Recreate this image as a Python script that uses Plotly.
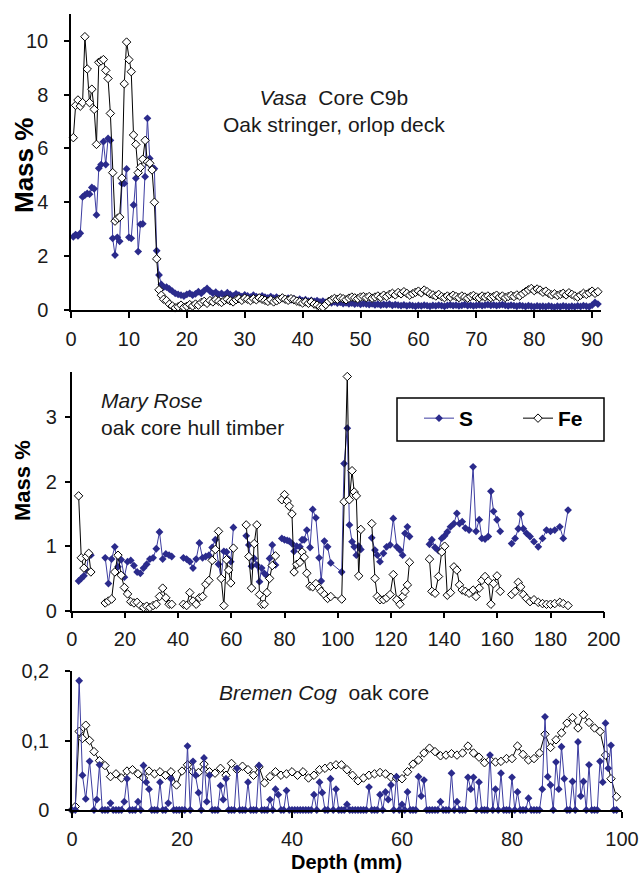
import plotly.graph_objects as go

# ---------------------------------------------------------------------------
# Data: S and Fe mass % along three oak core profiles (depth in mm)
# ---------------------------------------------------------------------------

# Vasa core C9b, oak stringer, orlop deck
vasa_depth = [
    0.4, 0.8, 1.2, 1.6, 2.0, 2.4, 2.8, 3.2, 3.6, 4.0,
    4.4, 4.8, 5.2, 5.6, 6.0, 6.4, 6.8, 7.2, 7.6, 8.0,
    8.4, 8.8, 9.2, 9.6, 10.0, 10.4, 10.8, 11.2, 11.6, 12.0,
    12.4, 12.8, 13.2, 13.6, 14.0, 14.4, 14.8, 15.2, 15.6, 16.0,
    16.5, 17.0, 17.5, 18.0, 18.5, 19.0, 19.5, 20.0, 20.5, 21.0,
    21.5, 22.0, 22.5, 23.0, 23.5, 24.0, 24.5, 25.0, 25.5, 26.0,
    26.5, 27.0, 27.5, 28.0, 28.5, 29.0, 29.5, 30.0, 30.5, 31.0,
    31.5, 32.0, 32.5, 33.0, 33.5, 34.0, 34.5, 35.0, 35.5, 36.0,
    36.5, 37.0, 37.5, 38.0, 38.5, 39.0, 39.5, 40.0, 40.5, 41.0,
    41.5, 42.0, 42.5, 43.0, 43.5, 44.0, 44.5, 45.0, 45.5, 46.0,
    46.5, 47.0, 47.5, 48.0, 48.5, 49.0, 49.5, 50.0, 50.5, 51.0,
    51.5, 52.0, 52.5, 53.0, 53.5, 54.0, 54.5, 55.0, 55.5, 56.0,
    56.5, 57.0, 57.5, 58.0, 58.5, 59.0, 59.5, 60.0, 60.5, 61.0,
    61.5, 62.0, 62.5, 63.0, 63.5, 64.0, 64.5, 65.0, 65.5, 66.0,
    66.5, 67.0, 67.5, 68.0, 68.5, 69.0, 69.5, 70.0, 70.5, 71.0,
    71.5, 72.0, 72.5, 73.0, 73.5, 74.0, 74.5, 75.0, 75.5, 76.0,
    76.5, 77.0, 77.5, 78.0, 78.5, 79.0, 79.5, 80.0, 80.5, 81.0,
    81.5, 82.0, 82.5, 83.0, 83.5, 84.0, 84.5, 85.0, 85.5, 86.0,
    86.5, 87.0, 87.5, 88.0, 88.5, 89.0, 89.5, 90.0, 90.5, 91.0,
]
vasa_s = [
    2.72, 2.80, 2.75, 2.85, 4.20, 4.27, 4.33, 4.30, 4.55, 4.50,
    3.53, 5.26, 5.40, 6.25, 5.40, 6.37, 6.30, 2.66, 2.04, 2.70,
    2.55, 4.70, 4.70, 5.24, 2.70, 2.66, 3.90, 4.89, 2.17, 3.18,
    3.20, 4.95, 7.12, 5.63, 5.30, 5.25, 2.20, 1.30, 0.95, 0.85,
    0.85, 0.78, 0.70, 0.62, 0.58, 0.55, 0.52, 0.58, 0.62, 0.55,
    0.60, 0.68, 0.62, 0.72, 0.80, 0.70, 0.62, 0.66, 0.58, 0.62,
    0.55, 0.64, 0.58, 0.52, 0.60, 0.55, 0.50, 0.56, 0.52, 0.48,
    0.55, 0.50, 0.46, 0.52, 0.48, 0.45, 0.50, 0.44, 0.48, 0.42,
    0.45, 0.40, 0.44, 0.38, 0.42, 0.36, 0.40, 0.35, 0.38, 0.33,
    0.36, 0.32, 0.35, 0.30, 0.33, 0.28, 0.32, 0.27, 0.30, 0.26,
    0.28, 0.24, 0.27, 0.23, 0.26, 0.22, 0.25, 0.21, 0.24, 0.22,
    0.20, 0.23, 0.19, 0.22, 0.18, 0.21, 0.19, 0.22, 0.17, 0.20,
    0.18, 0.16, 0.19, 0.15, 0.18, 0.16, 0.14, 0.17, 0.15, 0.18,
    0.16, 0.14, 0.17, 0.15, 0.18, 0.16, 0.14, 0.17, 0.19, 0.16,
    0.18, 0.15, 0.17, 0.20, 0.16, 0.18, 0.15, 0.17, 0.19, 0.16,
    0.18, 0.20, 0.17, 0.19, 0.16, 0.18, 0.20, 0.17, 0.15, 0.18,
    0.16, 0.14, 0.17, 0.15, 0.13, 0.16, 0.14, 0.12, 0.15, 0.13,
    0.14, 0.12, 0.15, 0.13, 0.11, 0.14, 0.12, 0.15, 0.13, 0.12,
    0.14, 0.12, 0.15, 0.13, 0.16, 0.14, 0.12, 0.18, 0.28, 0.22,
]
vasa_fe = [
    6.40, 7.60, 7.80, 7.57, 7.70, 10.15, 8.95, 7.70, 8.20, 7.45,
    6.15, 9.20, 9.25, 9.30, 8.90, 8.60, 7.30, 5.10, 3.30, 3.40,
    3.45, 4.90, 8.40, 9.95, 9.30, 8.85, 6.50, 6.15, 5.10, 5.30,
    5.60, 6.30, 5.50, 5.45, 5.20, 4.00, 1.90, 0.75, 0.55, 0.40,
    0.35, 0.22, 0.15, 0.08, 0.12, 0.18, 0.10, 0.14, 0.20, 0.15,
    0.22, 0.18, 0.28, 0.32, 0.25, 0.35, 0.30, 0.38, 0.33, 0.28,
    0.36, 0.40, 0.34, 0.30, 0.38, 0.42, 0.36, 0.44, 0.40, 0.35,
    0.42, 0.38, 0.45, 0.40, 0.36, 0.32, 0.38, 0.30, 0.34, 0.40,
    0.45, 0.40, 0.36, 0.42, 0.38, 0.33, 0.30, 0.26, 0.30, 0.25,
    0.30, 0.22, 0.18, 0.12, 0.10, 0.20, 0.32, 0.38, 0.43, 0.40,
    0.45, 0.42, 0.38, 0.44, 0.48, 0.45, 0.42, 0.48, 0.50, 0.46,
    0.50, 0.44, 0.48, 0.52, 0.47, 0.55, 0.50, 0.58, 0.62, 0.56,
    0.65, 0.60, 0.68, 0.62, 0.55, 0.60, 0.66, 0.70, 0.64, 0.74,
    0.68, 0.60, 0.56, 0.52, 0.58, 0.50, 0.46, 0.52, 0.48, 0.55,
    0.50, 0.46, 0.52, 0.48, 0.44, 0.50, 0.54, 0.48, 0.45, 0.52,
    0.48, 0.52, 0.46, 0.50, 0.55, 0.48, 0.52, 0.46, 0.50, 0.54,
    0.50, 0.56, 0.52, 0.60, 0.68, 0.75, 0.80, 0.72, 0.78, 0.74,
    0.66, 0.70, 0.62, 0.56, 0.60, 0.54, 0.58, 0.62, 0.56, 0.64,
    0.58, 0.52, 0.48, 0.55, 0.62, 0.58, 0.64, 0.70, 0.62, 0.68,
]

# Mary Rose oak core, hull timber (None marks breaks between measured runs)
mr_depth = [
    2.6, 3.6, 4.6, 5.6, 6.4, 7.2, None,
    12.6, 13.8, 15.0, 16.2, 17.4, 18.6, 19.8, 21.0, 22.2, 23.4, 24.6,
    25.8, 27.0, 28.2, 29.4, 30.6, 31.8, 33.0, 34.2, 35.4, 36.6, 37.6, None,
    42.0, 43.2, 44.4, 45.6, 46.8, 48.0, 49.2, 50.4, 51.6, 52.8, 54.0,
    55.2, 56.2, 57.2, 58.2, 59.0, 59.8, 60.8, None,
    65.6, 66.6, 67.6, 68.6, 69.6, 70.6, 71.4, 72.4, 73.4, 74.4, 75.4, 76.6, None,
    79.0, 80.0, 81.0, 81.8, 82.8, 83.6, 84.6, 85.8, 86.6, 87.4, 88.4,
    89.6, 90.6, 91.8, 93.0, 93.8, 95.0, 96.2, 97.4, 101.5, 102.4, 103.6,
    104.4, 105.4, 106.2, 107.0, 107.9, 108.7, None,
    112.8, 114.0, 114.9, 115.9, 117.2, 118.4, 119.7, 120.9, 122.2, 123.4,
    124.4, 125.3, 126.2, 127.0, None,
    134.5, 135.4, 136.6, 137.9, 139.1, 140.2, 141.2, 142.4, 143.7, 144.8,
    145.8, 146.8, 148.0, 149.4, 150.9, 152.0, 153.2, 154.2, 155.4, 156.6,
    157.6, 158.6, 159.9, 161.1, None,
    165.4, 166.7, 167.9, 168.8, 169.8, 171.0, 172.3, 173.8, 175.4, 177.0,
    178.5, 180.0, 181.6, 183.5, 184.8, 186.6,
]
mr_s = [
    0.46, 0.50, 0.54, 0.63, 0.88, 0.86, None,
    0.82, 0.42, 0.80, 0.99, 0.68, 0.79, 0.52, 0.76, 0.78, 0.70, 0.60,
    0.58, 0.66, 0.72, 0.80, 0.82, 0.96, 1.22, 0.80, 0.88, 0.86, 0.84, None,
    0.82, 0.80, 0.76, 0.66, 0.80, 1.05, 0.82, 0.84, 0.86, 0.98, 1.10,
    0.72, 0.50, 0.92, 0.91, 0.80, 0.76, 1.29, None,
    1.16, 1.02, 0.69, 0.81, 0.71, 0.45, 0.66, 0.58, 0.54, 0.81, 1.02, 0.71, None,
    1.12, 1.10, 1.09, 1.08, 1.04, 0.92, 1.00, 0.99, 1.10, 1.10, 1.25,
    0.98, 1.57, 1.44, 0.82, 0.46, 1.08, 0.99, 0.74, 0.60, 2.28, 2.83,
    1.33, 1.07, 0.99, 0.86, 1.00, 0.95, None,
    1.13, 0.94, 0.86, 0.76, 0.89, 0.99, 1.02, 1.43, 0.99, 0.94,
    0.86, 1.20, 1.30, 1.15, None,
    1.03, 1.10, 0.98, 0.93, 1.12, 1.16, 1.22, 1.30, 1.35, 1.51,
    1.35, 1.38, 1.28, 1.25, 2.23, 1.23, 1.41, 1.12, 1.11, 1.15,
    1.85, 1.54, 1.41, 1.23, None,
    1.04, 1.12, 1.27, 1.50, 1.27, 1.20, 1.15, 1.07, 0.99, 1.12,
    1.25, 1.23, 1.25, 1.30, 1.12, 1.56,
]
mr_fe = [
    1.78, 0.82, 0.66, 0.84, 0.89, 0.60, None,
    0.12, 0.15, 0.18, 0.60, 0.86, 0.55, 0.36, 0.26, 0.14, 0.12, 0.13,
    0.08, 0.05, 0.07, 0.05, 0.08, 0.10, 0.22, 0.35, 0.20, 0.10, 0.10, None,
    0.10, 0.08, 0.28, 0.15, 0.10, 0.20, 0.22, 0.41, 0.47, 0.78, 0.95,
    1.23, 0.50, 0.08, 0.79, 0.63, 0.43, 0.97, None,
    1.33, 0.84, 0.35, 1.04, 1.33, 0.25, 0.10, 0.10, 0.28, 0.50, 0.70, 0.85, None,
    1.72, 1.80, 1.70, 1.62, 1.50, 0.60, 0.72, 0.75, 0.91, 0.83, 0.58,
    0.38, 0.37, 0.42, 0.35, 0.30, 0.25, 0.19, 0.22, 0.18, 1.69, 3.63,
    1.72, 2.17, 1.84, 1.78, 0.54, 1.26, None,
    1.35, 0.50, 0.22, 0.17, 0.17, 0.20, 0.25, 0.56, 0.17, 0.10,
    0.22, 0.30, 0.40, 0.75, None,
    0.80, 0.30, 0.27, 0.53, 0.91, 1.00, 0.24, 0.28, 0.68, 0.63,
    0.40, 0.32, 0.30, 0.27, 0.32, 0.22, 0.35, 0.47, 0.53, 0.46,
    0.10, 0.42, 0.54, 0.30, None,
    0.25, 0.30, 0.44, 0.37, 0.25, 0.19, 0.14, 0.17, 0.13, 0.11,
    0.10, 0.10, 0.11, 0.13, 0.11, 0.08,
]

# Bremen Cog oak core: Fe profile
bc_fe_depth = [
    0.0, 0.6, 1.3, 1.9, 2.5, 3.2,
    4, 5, 6, 7, 8, 9, 10, 11, 12, 13,
    14, 15, 16, 17, 18, 19, 20, 21, 22, 23,
    24, 25, 26, 27, 28, 29, 30, 31, 32, 33,
    34, 35, 36, 37, 38, 39, 40, 41, 42, 43,
    44, 45, 46, 47, 48, 49, 50, 51, 52, 53,
    54, 55, 56, 57, 58, 59, 60, 61, 62, 63,
    64, 65, 66, 67, 68, 69, 70, 71, 72, 73,
    74, 75, 76, 77, 78, 79, 80, 81, 82, 83,
    84, 85, 86, 87, 88, 89, 90, 91, 92, 93,
    94, 95, 96, 97, 98, 99,
]
bc_fe = [
    0.000, 0.005, 0.113, 0.103, 0.122, 0.100,
    0.084, 0.071, 0.064, 0.048, 0.052, 0.046, 0.056, 0.058, 0.052, 0.046,
    0.056, 0.052, 0.055, 0.050, 0.055, 0.036, 0.056, 0.065, 0.055, 0.054,
    0.066, 0.055, 0.053, 0.060, 0.050, 0.067, 0.058, 0.063, 0.058, 0.050,
    0.062, 0.039, 0.048, 0.055, 0.050, 0.052, 0.055, 0.050, 0.055, 0.046,
    0.050, 0.058, 0.060, 0.063, 0.065, 0.065, 0.058, 0.050, 0.042, 0.046,
    0.050, 0.052, 0.054, 0.052, 0.047, 0.046, 0.045, 0.055, 0.066, 0.072,
    0.082, 0.089, 0.084, 0.078, 0.079, 0.081, 0.079, 0.082, 0.092, 0.082,
    0.076, 0.068, 0.072, 0.069, 0.070, 0.074, 0.074, 0.092, 0.080, 0.072,
    0.074, 0.082, 0.109, 0.090, 0.101, 0.111, 0.125, 0.133, 0.118, 0.137,
    0.126, 0.118, 0.113, 0.079, 0.045, 0.019,
]

# Bremen Cog oak core: S profile (finer step)
bc_s_depth = [
    0.0, 0.6, 1.3, 1.9, 2.5, 3.2,
    4.0, 4.5, 5.0, 5.5, 6.0, 6.5, 7.0, 7.5, 8.0, 8.5,
    9.0, 9.5, 10.0, 10.5, 11.0, 11.5, 12.0, 12.5, 13.0, 13.5,
    14.0, 14.5, 15.0, 15.5, 16.0, 16.5, 17.0, 17.5, 18.0, 18.5,
    19.0, 19.5, 20.0, 20.5, 21.0, 21.5, 22.0, 22.5, 23.0, 23.5,
    24.0, 24.5, 25.0, 25.5, 26.0, 26.5, 27.0, 27.5, 28.0, 28.5,
    29.0, 29.5, 30.0, 30.5, 31.0, 31.5, 32.0, 32.5, 33.0, 33.5,
    34.0, 34.5, 35.0, 35.5, 36.0, 36.5, 37.0, 37.5, 38.0, 38.5,
    39.0, 39.5, 40.0, 40.5, 41.0, 41.5, 42.0, 42.5, 43.0, 43.5,
    44.0, 44.5, 45.0, 45.5, 46.0, 46.5, 47.0, 47.5, 48.0, 48.5,
    49.0, 49.5, 50.0, 50.5, 51.0, 51.5, 52.0, 52.5, 53.0, 53.5,
    54.0, 54.5, 55.0, 55.5, 56.0, 56.5, 57.0, 57.5, 58.0, 58.5,
    59.0, 59.5, 60.0, 60.5, 61.0, 61.5, 62.0, 62.5, 63.0, 63.5,
    64.0, 64.5, 65.0, 65.5, 66.0, 66.5, 67.0, 67.5, 68.0, 68.5,
    69.0, 69.5, 70.0, 70.5, 71.0, 71.5, 72.0, 72.5, 73.0, 73.5,
    74.0, 74.5, 75.0, 75.5, 76.0, 76.5, 77.0, 77.5, 78.0, 78.5,
    79.0, 79.5, 80.0, 80.5, 81.0, 81.5, 82.0, 82.5, 83.0, 83.5,
    84.0, 84.5, 85.0, 85.5, 86.0, 86.5, 87.0, 87.5, 88.0, 88.5,
    89.0, 89.5, 90.0, 90.5, 91.0, 91.5, 92.0, 92.5, 93.0, 93.5,
    94.0, 94.5, 95.0, 95.5, 96.0, 96.5, 97.0, 97.5, 98.0, 98.5,
    99.0,
]
bc_s = [
    0.000, 0.000, 0.186, 0.050, 0.016, 0.070,
    0.000, 0.015, 0.065, 0.000, 0.000, 0.000, 0.010, 0.000, 0.000, 0.000,
    0.000, 0.012, 0.045, 0.000, 0.000, 0.000, 0.012, 0.000, 0.064, 0.040,
    0.030, 0.000, 0.000, 0.000, 0.040, 0.000, 0.000, 0.010, 0.045, 0.000,
    0.000, 0.000, 0.000, 0.000, 0.092, 0.000, 0.070, 0.050, 0.025, 0.000,
    0.075, 0.012, 0.050, 0.000, 0.000, 0.000, 0.035, 0.015, 0.045, 0.000,
    0.000, 0.000, 0.060, 0.000, 0.000, 0.000, 0.040, 0.000, 0.000, 0.000,
    0.064, 0.000, 0.000, 0.000, 0.015, 0.000, 0.030, 0.022, 0.000, 0.000,
    0.028, 0.000, 0.000, 0.000, 0.000, 0.000, 0.000, 0.000, 0.000, 0.000,
    0.022, 0.000, 0.040, 0.025, 0.000, 0.000, 0.045, 0.000, 0.030, 0.000,
    0.000, 0.000, 0.008, 0.000, 0.000, 0.000, 0.000, 0.000, 0.000, 0.000,
    0.033, 0.000, 0.000, 0.000, 0.022, 0.000, 0.026, 0.015, 0.036, 0.000,
    0.048, 0.000, 0.008, 0.000, 0.026, 0.000, 0.000, 0.000, 0.048, 0.020,
    0.043, 0.000, 0.000, 0.000, 0.000, 0.000, 0.012, 0.000, 0.000, 0.000,
    0.053, 0.000, 0.012, 0.000, 0.000, 0.000, 0.047, 0.030, 0.047, 0.000,
    0.040, 0.000, 0.000, 0.000, 0.079, 0.000, 0.030, 0.000, 0.053, 0.000,
    0.000, 0.000, 0.047, 0.000, 0.026, 0.000, 0.000, 0.000, 0.017, 0.000,
    0.000, 0.000, 0.000, 0.030, 0.134, 0.048, 0.036, 0.000, 0.069, 0.030,
    0.091, 0.045, 0.000, 0.000, 0.041, 0.000, 0.098, 0.020, 0.041, 0.000,
    0.065, 0.000, 0.000, 0.000, 0.070, 0.040, 0.125, 0.060, 0.093, 0.000,
    0.000,
]

bc_tick_vals = [0, 0.1, 0.2]
bc_tick_text = ["0", "0,1", "0,2"]

# ---------------------------------------------------------------------------
# Figure
# ---------------------------------------------------------------------------
W, H = 642, 874
FONT = "Liberation Sans, Arial, sans-serif"
NAVY = "#2b2b8c"
S_LINE = "#3c3ca0"


def fx(p):
    return p / W


def fy(p):
    return 1 - p / H


def s_trace(x, y, xa, ya, legend):
    return go.Scatter(
        x=x, y=y, name="S", mode="lines+markers", xaxis=xa, yaxis=ya,
        line=dict(color=S_LINE, width=1),
        marker=dict(symbol="diamond", size=6, color=NAVY),
        showlegend=legend, connectgaps=False, cliponaxis=False,
    )


def fe_trace(x, y, xa, ya, legend):
    return go.Scatter(
        x=x, y=y, name="Fe", mode="lines+markers", xaxis=xa, yaxis=ya,
        line=dict(color="black", width=1),
        marker=dict(symbol="diamond", size=6.5, color="white",
                    line=dict(color="black", width=1)),
        showlegend=legend, connectgaps=False, cliponaxis=False,
    )


fig = go.Figure()
fig.add_trace(s_trace(vasa_depth, vasa_s, "x", "y", False))
fig.add_trace(fe_trace(vasa_depth, vasa_fe, "x", "y", False))
fig.add_trace(s_trace(mr_depth, mr_s, "x2", "y2", True))
fig.add_trace(fe_trace(mr_depth, mr_fe, "x2", "y2", True))
fig.add_trace(fe_trace(bc_fe_depth, bc_fe, "x3", "y3", False))
fig.add_trace(s_trace(bc_s_depth, bc_s, "x3", "y3", False))

axis_base = dict(
    showline=True, linecolor="black", linewidth=1.5,
    ticks="outside", tickcolor="black", tickwidth=1.5,
    showgrid=False, zeroline=False, automargin=False, fixedrange=True,
    tickfont=dict(family=FONT, size=20, color="#1a1a1a"),
)

fig.update_layout(
    width=W, height=H,
    margin=dict(l=0, r=0, t=0, b=0),
    paper_bgcolor="white", plot_bgcolor="white",
    template="none",
    font=dict(family=FONT, color="#1a1a1a"),
    xaxis=dict(axis_base, domain=[fx(71), fx(600.8)], range=[0, 91.5],
               tick0=0, dtick=10, ticklen=6, anchor="y", ticklabelstandoff=4),
    yaxis=dict(axis_base, domain=[fy(310), fy(13.8)], range=[0, 11],
               tick0=0, dtick=2, ticklen=5, anchor="x", ticklabelstandoff=12),
    xaxis2=dict(axis_base, domain=[fx(71.7), fx(603.7)], range=[0, 200],
                tick0=0, dtick=20, ticklen=6, anchor="y2", ticklabelstandoff=4),
    yaxis2=dict(axis_base, domain=[fy(610.7), fy(372)], range=[0, 3.7],
                tick0=0, dtick=1, ticklen=5, anchor="x2", ticklabelstandoff=4),
    xaxis3=dict(axis_base, domain=[fx(72), fx(622)], range=[0, 100],
                tick0=0, dtick=20, ticklen=6, anchor="y3", ticklabelstandoff=4),
    yaxis3=dict(axis_base, domain=[fy(810), fy(671)], range=[0, 0.2],
                tickvals=bc_tick_vals, ticktext=bc_tick_text,
                ticklen=5, anchor="x3", ticklabelstandoff=12),
    legend=dict(
        orientation="h", x=fx(397), y=fy(398), xanchor="left", yanchor="top",
        borderwidth=0, bgcolor="rgba(0,0,0,0)",
        font=dict(family=FONT, size=21, color="black", weight="bold"),
        entrywidth=32, entrywidthmode="pixels", indentation=22,
    ),
    showlegend=True,
    # frame around the legend entries
    shapes=[dict(type="rect", xref="paper", yref="paper",
                 x0=fx(397), x1=fx(604), y0=fy(441), y1=fy(398),
                 line=dict(color="black", width=1.5), layer="above")],
)

text_font = dict(family=FONT, size=21, color="#1a1a1a")
annotations = [
    dict(x=fx(334), y=fy(111), xref="paper", yref="paper",
         text="<i>Vasa</i>\u00a0 Core C9b<br>Oak stringer, orlop deck",
         align="center", xanchor="center", yanchor="middle", font=text_font),
    dict(x=fx(99), y=fy(413.5), xref="paper", yref="paper",
         text="<i>Mary Rose</i><br>oak core hull timber",
         align="left", xanchor="left", yanchor="middle", font=text_font),
    dict(x=fx(217), y=fy(692), xref="paper", yref="paper",
         text="<i>Bremen Cog</i>\u00a0 oak core",
         align="left", xanchor="left", yanchor="middle", font=text_font),
    dict(x=fx(24), y=fy(165), xref="paper", yref="paper", textangle=-90,
         text="<b>Mass %</b>", xanchor="center", yanchor="middle",
         font=dict(family=FONT, size=26, color="black")),
    dict(x=fx(22), y=fy(480), xref="paper", yref="paper", textangle=-90,
         text="<b>Mass %</b>", xanchor="center", yanchor="middle",
         font=dict(family=FONT, size=22, color="black")),
    dict(x=fx(346.5), y=fy(862), xref="paper", yref="paper",
         text="<b>Depth (mm)</b>", xanchor="center", yanchor="middle",
         font=dict(family=FONT, size=20, color="black")),
]
for a in annotations:
    a["showarrow"] = False
fig.update_layout(annotations=annotations)

fig.write_html("out.html")
